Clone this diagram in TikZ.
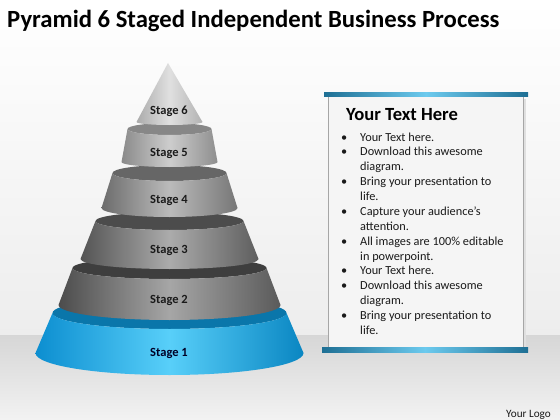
\documentclass[tikz,border=0pt]{standalone}
\usepackage{fontspec}
\setmainfont{Carlito}
\definecolor{c6l}{HTML}{ABABAB}\definecolor{c6m}{HTML}{E0E0E0}\definecolor{c6r}{HTML}{B2B2B2}
\definecolor{c5l}{HTML}{8A8A8A}\definecolor{c5m}{HTML}{CDCDCD}\definecolor{c5r}{HTML}{8E8E8E}\definecolor{c5t}{HTML}{878787}
\definecolor{c4l}{HTML}{6C6C6C}\definecolor{c4m}{HTML}{BBBBBB}\definecolor{c4r}{HTML}{767676}\definecolor{c4t}{HTML}{666666}
\definecolor{c3l}{HTML}{545454}\definecolor{c3m}{HTML}{ABABAB}\definecolor{c3r}{HTML}{5E5E5E}\definecolor{c3t}{HTML}{4C4C4C}
\definecolor{c2l}{HTML}{4C4C4C}\definecolor{c2m}{HTML}{A6A6A6}\definecolor{c2r}{HTML}{5A5A5A}\definecolor{c2t}{HTML}{3E3E3E}
\definecolor{c1l}{HTML}{0C8ED0}\definecolor{c1m}{HTML}{58CFF9}\definecolor{c1r}{HTML}{0A86C2}\definecolor{c1t}{HTML}{0A76AA}
\definecolor{barD}{HTML}{1E6F94}\definecolor{barL}{HTML}{6CCAEE}
\definecolor{txt}{HTML}{1A1A1A}
\newcommand\frustum[8]{%
  \fill[#8] (169.5,#1) ellipse[x radius=#2, y radius=#3];
  \shade[#7] (169.5-#2,#1) -- (169.5-#5,#4)
    arc[start angle=180,end angle=0,x radius=#5,y radius=#6]
    -- (169.5+#2,#1)
    arc[start angle=0,end angle=180,x radius=#2,y radius=#3] -- cycle;
}
\begin{document}
\begin{tikzpicture}[x=1pt,y=-1pt,
  stagelbl/.style={font=\fontsize{12.5}{15}\selectfont\bfseries, text=txt, inner sep=0pt},
  s6side/.style={left color=c6l, right color=c6r, middle color=c6m},
  s5side/.style={left color=c5l, right color=c5r, middle color=c5m},
  s4side/.style={left color=c4l, right color=c4r, middle color=c4m},
  s3side/.style={left color=c3l, right color=c3r, middle color=c3m},
  s2side/.style={left color=c2l, right color=c2r, middle color=c2m},
  s1side/.style={left color=c1l, right color=c1r, middle color=c1m},
  bar/.style={left color=barD, right color=barD, middle color=barL}]
\useasboundingbox (0,0) rectangle (560,420);
% background
\shade[top color=white, bottom color=black!7] (0,0) rectangle (560,335);
\shade[top color=black!16, bottom color=black!5] (0,335) rectangle (560,420);
% title
\node[anchor=base west, inner sep=0pt, font=\fontsize{24.7}{29}\selectfont\bfseries, text=black] (title) at (7,28) {Pyramid 6 Staged Independent Business Process};
% pyramid
\frustum{313}{117}{16}{353}{134}{22}{s1side}{c1t}
\frustum{268}{97}{11}{305}{111}{15}{s2side}{c2t}
\frustum{221}{74}{9}{259}{89}{10}{s3side}{c3t}
\frustum{173}{57}{8}{208}{68}{9}{s4side}{c4t}
\frustum{129}{42}{6}{162}{48}{5}{s5side}{c5t}
\shade[s6side] (168,63) -- (136.5,122) arc[start angle=180,end angle=0,x radius=33,y radius=3] -- cycle;
\node[stagelbl] (st6) at (169,111) {Stage 6};
\node[stagelbl] (st5) at (169,153) {Stage 5};
\node[stagelbl] (st4) at (169,200) {Stage 4};
\node[stagelbl] (st3) at (169,250) {Stage 3};
\node[stagelbl] (st2) at (169,300) {Stage 2};
\node[stagelbl, text=black!85!blue] (st1) at (169,353) {Stage 1};
% text panel
\fill[black!12] (330,99) rectangle (526,351);
\fill[black!4, draw=black!35, line width=0.8pt] (328,96) rectangle (523,348);
\shade[bar] (324,92.5) rectangle (528,97);
\shade[bar] (322,347.5) rectangle (528,352);
\node[anchor=base west, inner sep=0pt, font=\fontsize{18.6}{22}\selectfont\bfseries, text=black] (ptitle) at (346,121) {Your Text Here};
\node[anchor=base west, inner sep=0pt, text=txt] (plist) at (341,141)
 {\fontsize{12.3}{14.88}\selectfont
  \begin{tabular}[t]{@{}p{19pt}@{}l@{}}
  \textbullet & Your Text here.\\
  \textbullet & Download this awesome\\
   & diagram.\\
  \textbullet & Bring your presentation to\\
   & life.\\
  \textbullet & Capture your audience’s\\
   & attention.\\
  \textbullet & All images are 100\% editable\\
   & in powerpoint.\\
  \textbullet & Your Text here.\\
  \textbullet & Download this awesome\\
   & diagram.\\
  \textbullet & Bring your presentation to\\
   & life.
  \end{tabular}};
\node[anchor=base east, inner sep=0pt, font=\fontsize{11.2}{13}\selectfont, text=txt] (logo) at (551,417) {Your Logo};
\end{tikzpicture}
\end{document}
